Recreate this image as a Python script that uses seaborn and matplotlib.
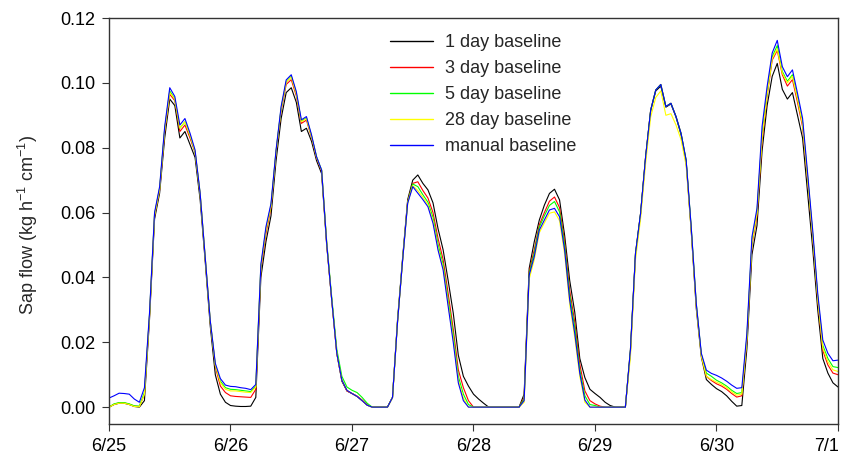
import numpy as np
import pandas as pd
import matplotlib
matplotlib.use("Agg")
import matplotlib.pyplot as plt
from matplotlib.transforms import ScaledTranslation
import seaborn as sns

# hourly sap flow readings, 6/25 00:00 to 7/1 00:00 (kg h-1 cm-1)
day_labels = ["6/25", "6/26", "6/27", "6/28", "6/29", "6/30", "7/1"]
series_labels = ["1 day baseline", "3 day baseline", "5 day baseline",
                 "28 day baseline", "manual baseline"]
series_colors = ["#000000", "#ff0000", "#00ff00", "#ffff00", "#0000ff"]

base_1day = [
    0.0000, 0.0008, 0.0012, 0.0012, 0.0008, 0.0002, 0.0000, 0.0020, 0.0270, 0.0580, 0.0660, 0.0830,
    0.0950, 0.0930, 0.0830, 0.0850, 0.0810, 0.0770, 0.0640, 0.0450, 0.0250, 0.0100, 0.0040, 0.0015,
    0.0005, 0.0003, 0.0002, 0.0002, 0.0003, 0.0030, 0.0400, 0.0510, 0.0590, 0.0760, 0.0890, 0.0970,
    0.0985, 0.0940, 0.0850, 0.0860, 0.0820, 0.0760, 0.0720, 0.0500, 0.0330, 0.0166, 0.0080, 0.0050,
    0.0042, 0.0033, 0.0020, 0.0006, 0.0000, 0.0000, 0.0000, 0.0000, 0.0030, 0.0270, 0.0460, 0.0640,
    0.0700, 0.0716, 0.0690, 0.0670, 0.0630, 0.0550, 0.0485, 0.0390, 0.0290, 0.0160, 0.0095, 0.0065,
    0.0040, 0.0025, 0.0012, 0.0000, 0.0000, 0.0000, 0.0000, 0.0000, 0.0000, 0.0000, 0.0040, 0.0428,
    0.0510, 0.0577, 0.0623, 0.0659, 0.0672, 0.0639, 0.0530, 0.0391, 0.0293, 0.0150, 0.0091, 0.0055,
    0.0042, 0.0030, 0.0015, 0.0005, 0.0000, 0.0000, 0.0000, 0.0170, 0.0470, 0.0595, 0.0770, 0.0915,
    0.0975, 0.0990, 0.0925, 0.0935, 0.0895, 0.0840, 0.0755, 0.0545, 0.0305, 0.0155, 0.0085, 0.0070,
    0.0057, 0.0048, 0.0035, 0.0018, 0.0003, 0.0005, 0.0180, 0.0470, 0.0560, 0.0790, 0.0930, 0.1020,
    0.1060, 0.0980, 0.0950, 0.0970, 0.0900, 0.0830, 0.0660, 0.0490, 0.0300, 0.0150, 0.0105, 0.0075,
    0.0062,
]

base_3day = [
    0.0000, 0.0009, 0.0013, 0.0013, 0.0009, 0.0003, 0.0002, 0.0040, 0.0280, 0.0590, 0.0670, 0.0850,
    0.0965, 0.0945, 0.0850, 0.0870, 0.0830, 0.0785, 0.0655, 0.0460, 0.0262, 0.0125, 0.0065, 0.0045,
    0.0035, 0.0033, 0.0032, 0.0031, 0.0030, 0.0055, 0.0425, 0.0535, 0.0615, 0.0785, 0.0915, 0.0995,
    0.1010, 0.0960, 0.0875, 0.0885, 0.0832, 0.0768, 0.0728, 0.0505, 0.0330, 0.0166, 0.0083, 0.0050,
    0.0042, 0.0034, 0.0022, 0.0007, 0.0000, 0.0000, 0.0000, 0.0000, 0.0030, 0.0265, 0.0455, 0.0635,
    0.0690, 0.0695, 0.0668, 0.0645, 0.0600, 0.0520, 0.0455, 0.0350, 0.0240, 0.0115, 0.0060, 0.0020,
    0.0000, 0.0000, 0.0000, 0.0000, 0.0000, 0.0000, 0.0000, 0.0000, 0.0000, 0.0000, 0.0030, 0.0418,
    0.0485, 0.0562, 0.0600, 0.0635, 0.0648, 0.0615, 0.0510, 0.0360, 0.0262, 0.0132, 0.0050, 0.0020,
    0.0010, 0.0003, 0.0000, 0.0000, 0.0000, 0.0000, 0.0000, 0.0177, 0.0474, 0.0597, 0.0772, 0.0916,
    0.0978, 0.0995, 0.0927, 0.0937, 0.0896, 0.0844, 0.0760, 0.0550, 0.0315, 0.0160, 0.0095, 0.0082,
    0.0072, 0.0065, 0.0055, 0.0042, 0.0031, 0.0035, 0.0205, 0.0500, 0.0590, 0.0820, 0.0960, 0.1070,
    0.1100, 0.1025, 0.0990, 0.1010, 0.0940, 0.0865, 0.0700, 0.0525, 0.0330, 0.0175, 0.0130, 0.0105,
    0.0100,
]

base_5day = [
    0.0000, 0.0010, 0.0014, 0.0014, 0.0010, 0.0004, 0.0003, 0.0045, 0.0285, 0.0595, 0.0675, 0.0858,
    0.0975, 0.0950, 0.0860, 0.0880, 0.0838, 0.0788, 0.0658, 0.0462, 0.0265, 0.0130, 0.0080, 0.0060,
    0.0055, 0.0054, 0.0052, 0.0050, 0.0048, 0.0065, 0.0435, 0.0548, 0.0622, 0.0790, 0.0922, 0.1003,
    0.1020, 0.0968, 0.0882, 0.0892, 0.0837, 0.0772, 0.0731, 0.0510, 0.0338, 0.0178, 0.0095, 0.0062,
    0.0052, 0.0045, 0.0030, 0.0012, 0.0000, 0.0000, 0.0000, 0.0000, 0.0030, 0.0265, 0.0455, 0.0632,
    0.0688, 0.0680, 0.0655, 0.0632, 0.0585, 0.0502, 0.0440, 0.0330, 0.0225, 0.0095, 0.0040, 0.0008,
    0.0000, 0.0000, 0.0000, 0.0000, 0.0000, 0.0000, 0.0000, 0.0000, 0.0000, 0.0000, 0.0025, 0.0412,
    0.0475, 0.0555, 0.0590, 0.0622, 0.0634, 0.0602, 0.0498, 0.0345, 0.0245, 0.0115, 0.0035, 0.0008,
    0.0005, 0.0000, 0.0000, 0.0000, 0.0000, 0.0000, 0.0000, 0.0177, 0.0474, 0.0597, 0.0772, 0.0916,
    0.0978, 0.0995, 0.0927, 0.0937, 0.0896, 0.0844, 0.0762, 0.0556, 0.0320, 0.0163, 0.0105, 0.0095,
    0.0083, 0.0075, 0.0065, 0.0052, 0.0042, 0.0045, 0.0215, 0.0512, 0.0602, 0.0840, 0.0970, 0.1080,
    0.1115, 0.1035, 0.1005, 0.1025, 0.0955, 0.0878, 0.0710, 0.0535, 0.0340, 0.0190, 0.0150, 0.0125,
    0.0122,
]

base_28day = [
    0.0000, 0.0008, 0.0012, 0.0012, 0.0008, 0.0002, 0.0001, 0.0040, 0.0280, 0.0592, 0.0672, 0.0855,
    0.0970, 0.0950, 0.0860, 0.0880, 0.0838, 0.0788, 0.0658, 0.0462, 0.0265, 0.0130, 0.0075, 0.0055,
    0.0050, 0.0050, 0.0048, 0.0046, 0.0045, 0.0062, 0.0432, 0.0545, 0.0620, 0.0788, 0.0920, 0.1002,
    0.1018, 0.0966, 0.0880, 0.0890, 0.0835, 0.0770, 0.0730, 0.0505, 0.0330, 0.0166, 0.0083, 0.0052,
    0.0042, 0.0033, 0.0020, 0.0006, 0.0000, 0.0000, 0.0000, 0.0000, 0.0030, 0.0263, 0.0453, 0.0630,
    0.0683, 0.0668, 0.0647, 0.0624, 0.0574, 0.0490, 0.0430, 0.0318, 0.0210, 0.0082, 0.0028, 0.0000,
    0.0000, 0.0000, 0.0000, 0.0000, 0.0000, 0.0000, 0.0000, 0.0000, 0.0000, 0.0000, 0.0015, 0.0395,
    0.0455, 0.0538, 0.0568, 0.0598, 0.0602, 0.0575, 0.0472, 0.0318, 0.0215, 0.0095, 0.0015, 0.0000,
    0.0000, 0.0000, 0.0000, 0.0000, 0.0000, 0.0000, 0.0000, 0.0155, 0.0455, 0.0580, 0.0752, 0.0895,
    0.0955, 0.0975, 0.0900, 0.0905, 0.0870, 0.0825, 0.0745, 0.0545, 0.0310, 0.0158, 0.0095, 0.0085,
    0.0077, 0.0070, 0.0060, 0.0047, 0.0037, 0.0040, 0.0210, 0.0505, 0.0598, 0.0830, 0.0965, 0.1075,
    0.1105, 0.1030, 0.1000, 0.1020, 0.0950, 0.0872, 0.0705, 0.0530, 0.0335, 0.0182, 0.0140, 0.0115,
    0.0110,
]

base_manual = [
    0.0028, 0.0035, 0.0043, 0.0042, 0.0040, 0.0025, 0.0015, 0.0060, 0.0290, 0.0600, 0.0680, 0.0865,
    0.0985, 0.0958, 0.0870, 0.0890, 0.0845, 0.0793, 0.0660, 0.0464, 0.0267, 0.0135, 0.0088, 0.0068,
    0.0064, 0.0063, 0.0060, 0.0058, 0.0054, 0.0070, 0.0440, 0.0556, 0.0628, 0.0793, 0.0927, 0.1009,
    0.1025, 0.0973, 0.0886, 0.0896, 0.0840, 0.0772, 0.0731, 0.0505, 0.0330, 0.0166, 0.0083, 0.0052,
    0.0042, 0.0033, 0.0020, 0.0006, 0.0000, 0.0000, 0.0000, 0.0000, 0.0030, 0.0263, 0.0453, 0.0629,
    0.0680, 0.0660, 0.0640, 0.0618, 0.0567, 0.0484, 0.0423, 0.0310, 0.0200, 0.0075, 0.0020, 0.0000,
    0.0000, 0.0000, 0.0000, 0.0000, 0.0000, 0.0000, 0.0000, 0.0000, 0.0000, 0.0000, 0.0020, 0.0407,
    0.0464, 0.0546, 0.0577, 0.0608, 0.0613, 0.0587, 0.0484, 0.0330, 0.0227, 0.0104, 0.0022, 0.0000,
    0.0000, 0.0000, 0.0000, 0.0000, 0.0000, 0.0000, 0.0000, 0.0177, 0.0474, 0.0597, 0.0772, 0.0916,
    0.0978, 0.0995, 0.0927, 0.0937, 0.0896, 0.0844, 0.0762, 0.0556, 0.0320, 0.0166, 0.0114, 0.0104,
    0.0098, 0.0090, 0.0080, 0.0068, 0.0058, 0.0060, 0.0227, 0.0525, 0.0613, 0.0865, 0.0989, 0.1092,
    0.1131, 0.1050, 0.1019, 0.1040, 0.0968, 0.0891, 0.0721, 0.0546, 0.0350, 0.0207, 0.0166, 0.0143,
    0.0145,
]

all_series = [base_1day, base_3day, base_5day, base_28day, base_manual]
hours = np.arange(len(base_manual))

# long table for seaborn
df = pd.concat(
    [pd.DataFrame({"hour": hours, "flow": vals, "series": name})
     for name, vals in zip(series_labels, all_series)],
    ignore_index=True,
)

sns.set_style("white")
plt.rcParams["font.family"] = ["Liberation Sans", "DejaVu Sans"]
plt.rcParams["mathtext.default"] = "regular"

fig = plt.figure(figsize=(8.45, 4.61), dpi=100)
ax = fig.add_axes([109 / 845, 37 / 461, 729 / 845, 406 / 461])

sns.lineplot(data=df, x="hour", y="flow", hue="series", hue_order=series_labels,
             palette=series_colors, linewidth=0.8, ax=ax)

ax.set_xlim(0, 144)
ax.set_ylim(-0.0052, 0.12)
ax.set_xticks(np.arange(0, 145, 24))
ax.set_xticklabels(day_labels)
ax.set_yticks(np.arange(0, 0.121, 0.02))
ax.set_yticklabels([f"{v:.2f}" for v in np.arange(0, 0.121, 0.02)])
ax.tick_params(direction="out", length=5, width=0.8, colors="#333333",
               labelcolor="black", labelsize=13, pad=5,
               left=True, bottom=True)
for sp in ax.spines.values():
    sp.set_visible(True)
    sp.set_color("#333333")
    sp.set_linewidth(1.0)

# keep the last date label inside the canvas
last = ax.get_xticklabels()[-1]
last.set_transform(last.get_transform() + ScaledTranslation(-8 / 72, 0, fig.dpi_scale_trans))

ax.set_xlabel("")
ax.set_ylabel("Sap flow (kg h$^{-1}$ cm$^{-1}$)", fontsize=13)
ax.yaxis.set_label_coords(-0.095, 0.49)

handles, labels = ax.get_legend_handles_labels()
leg = ax.legend(handles, labels, loc="upper left",
                bbox_to_anchor=(390 / 845, 1 - 34 / 461), bbox_transform=fig.transFigure,
                frameon=False, fontsize=13, handlelength=2.4, handletextpad=0.65,
                labelspacing=0.5, borderpad=0, borderaxespad=0)
for line in leg.get_lines():
    line.set_linewidth(1.0)

fig.savefig("out.png", dpi=100)
